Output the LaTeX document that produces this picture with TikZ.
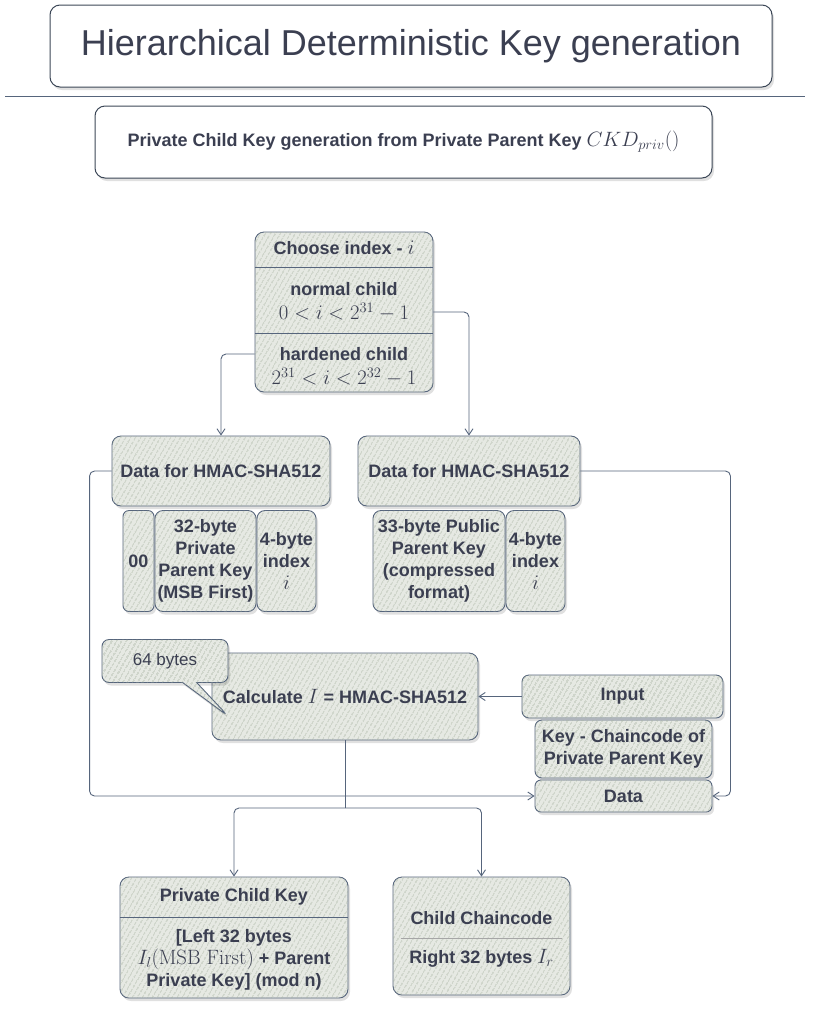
\documentclass[tikz,border=0pt]{standalone}
\usepackage[no-math]{fontspec}
\setmainfont{Liberation Sans}
\usetikzlibrary{patterns.meta,shadows,arrows.meta,calc,shapes.callouts}
\definecolor{ink}{HTML}{3B3F51}
\definecolor{edge}{HTML}{56657C}
\definecolor{boxfill}{HTML}{E6E9E3}
\definecolor{hatch}{HTML}{A7B39F}
\newcommand\bigmath{\fontsize{22}{24}\selectfont}
\tikzset{
  lbl/.style={font=\bfseries\fontsize{18}{22}\selectfont, text=ink, align=center},
  mathlbl/.style={font=\fontsize{22}{24}\selectfont, text=ink},
  shad/.style={drop shadow={shadow xshift=2pt, shadow yshift=-3pt, opacity=0.12, fill=black}},
  box/.style={draw=edge, line width=0.9pt, rounded corners=9pt, fill=boxfill,
    postaction={pattern={Lines[angle=60,distance=4pt,line width=0.7pt]}, pattern color=hatch},
    shad, inner sep=0pt},
  plainbox/.style={draw=edge!70!black, line width=1pt, rounded corners=10pt, fill=white, shad, inner sep=0pt},
  divider/.style={draw=edge, line width=0.8pt},
  conn/.style={draw=edge, line width=0.9pt, rounded corners=5pt},
  arr/.style={conn, -{Straight Barb[length=6pt,width=8pt]}},
}
\begin{document}
\begin{tikzpicture}[x=1pt,y=-1pt]
\useasboundingbox (0,0) rectangle (819,1013);
\fill[white] (0,0) rectangle (819,1013);

% title
\node[plainbox, minimum width=722pt, minimum height=82pt, font=\fontsize{36}{40}\selectfont, text=ink] (title) at (411,46) {Hierarchical Deterministic Key generation};
\draw[edge, line width=0.9pt] (5,96) -- (805,96);
\node[plainbox, minimum width=617pt, minimum height=72pt, font=\bfseries\fontsize{18}{22}\selectfont, text=ink] (sub) at (403.5,142) {Private Child Key generation from Private Parent Key {\bigmath$CKD_{priv}()$}};

% choose index
\node[box, minimum width=178pt, minimum height=160pt] (choose) at (344,312) {};
\draw[divider] (choose.west |- 0,267) -- (choose.east |- 0,267);
\draw[divider] (choose.west |- 0,333) -- (choose.east |- 0,333);
\node[lbl] (chooset) at (344,248) {Choose index - {\bigmath$i$}};
\node[lbl] (normal) at (344,289) {normal child};
\node[mathlbl] (normalf) at (344,312) {$0<i<2^{31}-1$};
\node[lbl] (hard) at (344,354) {hardened child};
\node[mathlbl] (hardf) at (344,377) {$2^{31}<i<2^{32}-1$};

% data boxes
\node[box, lbl, minimum width=218pt, minimum height=70pt] (data1) at (221,471) {Data for HMAC-SHA512};
\node[box, lbl, rounded corners=6pt, minimum width=31pt, minimum height=101pt] (zero) at (138.5,561) {00};
\node[box, lbl, rounded corners=8pt, minimum width=101pt, minimum height=101pt] (priv) at (205.5,561) {32-byte\\Private\\Parent Key\\(MSB First)};
\node[box, lbl, rounded corners=8pt, minimum width=59pt, minimum height=101pt] (idx1) at (286.5,561) {4-byte\\index\\{\bigmath$i$}};

\node[box, lbl, minimum width=222pt, minimum height=70pt] (data2) at (469,471) {Data for HMAC-SHA512};
\node[box, lbl, rounded corners=8pt, minimum width=132pt, minimum height=101pt] (pub) at (439,561) {33-byte Public\\Parent Key\\(compressed\\format)};
\node[box, lbl, rounded corners=8pt, minimum width=59pt, minimum height=101pt] (idx2) at (535.5,561) {4-byte\\index\\{\bigmath$i$}};

% calculate
\node[box, lbl, minimum width=266pt, minimum height=87pt] (calc) at (345,696.5) {Calculate {\bigmath$I$} = HMAC-SHA512};
\node[box, rectangle callout, callout absolute pointer={(228,716)}, callout pointer width=14pt, rounded corners=7pt, minimum width=126pt, minimum height=43pt, font=\fontsize{17}{20}\selectfont, text=ink] (bytes) at (165,661) {64 bytes};

% input stack
\node[box, lbl, rounded corners=7pt, minimum width=201pt, minimum height=43pt] (input) at (622.5,696.5) {Input};
\node[box, lbl, rounded corners=7pt, minimum width=177pt, minimum height=58pt] (key) at (623.5,749) {Key - Chaincode of\\Private Parent Key};
\node[box, lbl, rounded corners=6pt, minimum width=177pt, minimum height=32pt] (datain) at (623.5,796) {Data};

% results
\node[box, minimum width=228pt, minimum height=121pt] (pck) at (234,937.5) {};
\draw[divider] (pck.west |- 0,917) -- (pck.east |- 0,917);
\node[lbl] (pckh) at (234,897) {Private Child Key};
\node[lbl] (pckt) at (234,960) {[Left 32 bytes\\{\bigmath$I_l(\mathrm{MSB\ First})$} + Parent\\Private Key] (mod n)};

\node[box, minimum width=177pt, minimum height=118pt] (ccc) at (481.5,936) {};
\draw[gray!70, line width=0.6pt] ($(ccc.west |- 0,938)+(8,0)$) -- ($(ccc.east |- 0,938)+(-8,0)$);
\node[lbl] (ccch) at (481.5,918) {Child Chaincode};
\node[lbl] (ccct) at (481.5,958) {Right 32 bytes {\bigmath$I_r$}};

% connectors
\draw[arr] (hard -| choose.west) -| (data1.north);
\draw[arr] (normalf -| choose.east) -| (data2.north);
\draw[arr] (input.west) -- (calc.east);
\draw[arr] (data1.west) -- ++(-22,0) |- (datain.west);
\draw[arr] (data2.east) -- ++(150,0) |- (datain.east);
\coordinate (split) at (345,808);
\draw[conn] (calc.south) -- (split);
\draw[arr] (split) -| (pck.north);
\draw[arr] (split) -| (ccc.north);
\end{tikzpicture}
\end{document}
